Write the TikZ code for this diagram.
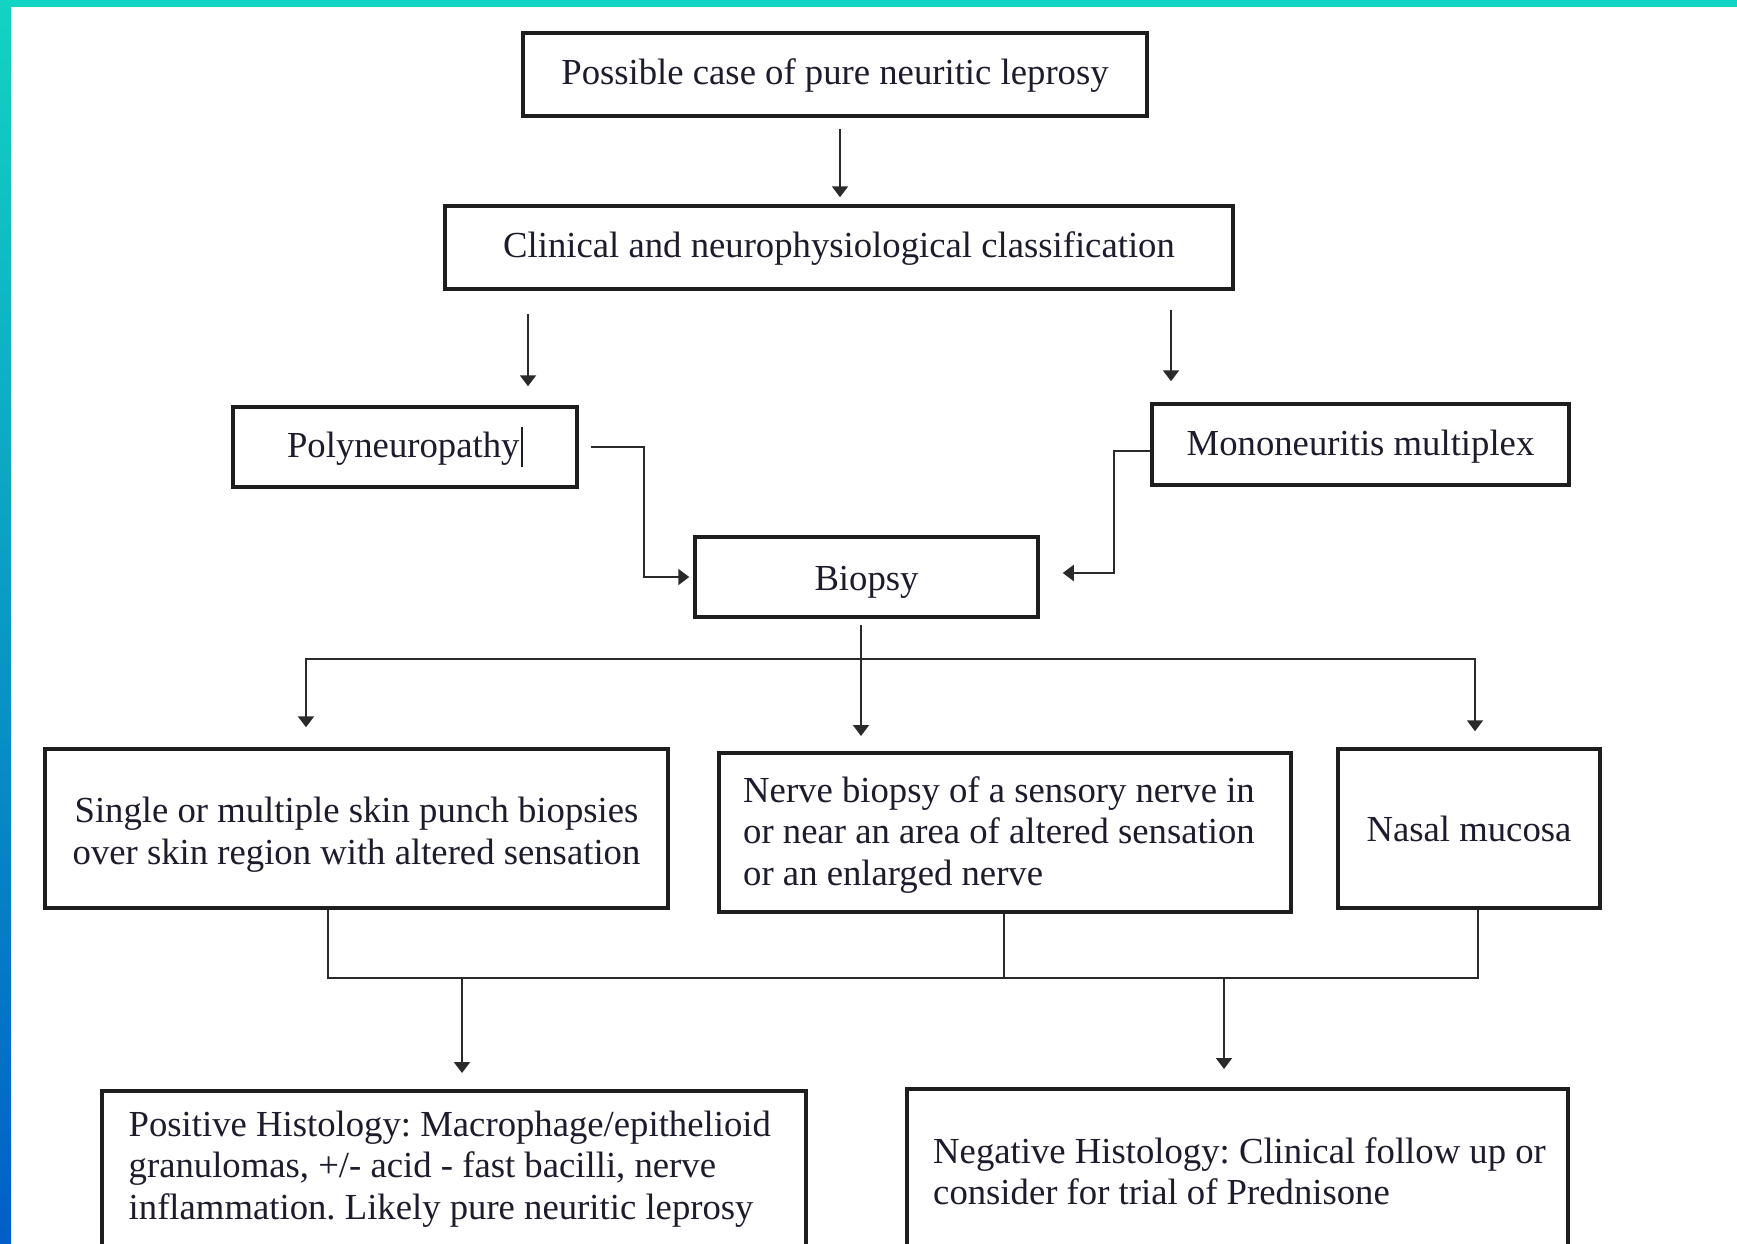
\documentclass[tikz,border=0pt]{standalone}
\usepackage{fontspec}
\setmainfont{Liberation Serif}
\usetikzlibrary{arrows.meta,calc}
\frenchspacing
\definecolor{boxc}{HTML}{1E1E1E}
\definecolor{linec}{HTML}{2A2A2A}
\definecolor{txtc}{HTML}{1C1C2C}
\definecolor{teal1}{HTML}{12D4C2}
\definecolor{cyan1}{HTML}{1BB5E4}
\definecolor{blue1}{HTML}{005FC8}
\newcommand{\lift}[1]{\rule{0pt}{#1}}
\begin{document}
\begin{tikzpicture}[x=1pt,y=-1pt,
  box/.style={draw=boxc, line width=3.5pt, inner sep=0pt, text=txtc, font=\fontsize{36.7}{41.5}\selectfont\frenchspacing},
  txt/.style={text=txtc, inner sep=0pt, font=\fontsize{36.7}{41.5}\selectfont\frenchspacing},
  conn/.style={draw=linec, line width=2pt},
  arr/.style={conn, -{Triangle[length=11pt,width=16pt]}},
]
\useasboundingbox (0,0) rectangle (1737,1243);
\clip (0,0) rectangle (1737,1243);
\fill[white] (0,0) rectangle (1737,1243);

% nodes
\node[box, minimum width=624pt, minimum height=83pt] (n1) at (835,74.5) {\lift{27pt}Possible case of pure neuritic leprosy};
\node[box, minimum width=788pt, minimum height=83pt] (n2) at (839,247.5) {\lift{27pt}Clinical and neurophysiological classification};
\node[box, minimum width=344pt, minimum height=80pt] (poly) at (405,447) {Polyneuropathy\hspace{2pt}\rule[-10pt]{1.5pt}{40pt}};
\node[box, minimum width=417pt, minimum height=81pt] (mono) at (1360.5,444.5) {\lift{29pt}Mononeuritis multiplex};
\node[box, minimum width=343pt, minimum height=80pt] (biopsy) at (866.5,577) {\lift{35pt}Biopsy};
\node[box, minimum width=623pt, minimum height=159pt, align=center] (skin) at (356.5,828.5) {\lift{38pt}Single or multiple skin punch biopsies\\over skin region with altered sensation};
\node[box, anchor=north west, minimum width=572pt, minimum height=159pt] (nerve) at (717,751) {};
\node[txt, anchor=base west] (nerveT) at ($(nerve.north west)+(26,51)$) {\parbox[t]{540pt}{Nerve biopsy of a sensory nerve in\\or near an area of altered sensation\\or an enlarged nerve}};
\node[box, minimum width=262pt, minimum height=159pt] (nasal) at (1469,828.5) {Nasal mucosa};
\node[box, anchor=north west, minimum width=704pt, minimum height=260pt] (pos) at (100,1089) {};
\node[txt, anchor=base west] (posT) at ($(pos.north west)+(28.5,47)$) {\parbox[t]{700pt}{Positive Histology: Macrophage/epithelioid\\granulomas, +/- acid - fast bacilli, nerve\\inflammation. Likely pure neuritic leprosy}};
\node[box, anchor=north west, minimum width=661pt, minimum height=260pt] (neg) at (905,1087) {};
\node[txt, anchor=base west] (negT) at ($(neg.north west)+(28,76)$) {\parbox[t]{700pt}{Negative Histology: Clinical follow up or\\consider for trial of Prednisone}};

% guide coordinates
\coordinate (xa) at (840,0);
\coordinate (xb) at (528,0);
\coordinate (xc) at (1171,0);
\coordinate (xd) at (644,0);
\coordinate (xe) at (1114,0);
\coordinate (xf) at (861,0);
\coordinate (xg) at (306,0);
\coordinate (xh) at (1475,0);
\coordinate (xi) at (328,0);
\coordinate (xj) at (1004,0);
\coordinate (xk) at (1478,0);
\coordinate (xl) at (462,0);
\coordinate (xm) at (1224,0);
\coordinate (bus1) at (0,659);
\coordinate (bus2) at (0,978);
\coordinate (m0) at ([yshift=-6pt]mono.west);
\coordinate (b0) at ([yshift=4pt]biopsy.east);

% connectors
\draw[arr, shorten <=11pt, shorten >=7pt] (n1.south -| xa) -- (n2.north -| xa);
\draw[arr, shorten <=23pt, shorten >=19pt] (n2.south -| xb) -- (poly.north -| xb);
\draw[arr, shorten <=19pt, shorten >=21pt] (n2.south -| xc) -- (mono.north -| xc);
\draw[arr, shorten <=12pt, shorten >=4pt] (poly.east) -- (poly.east -| xd) -- (biopsy.west -| xd) -- (biopsy.west);
\draw[arr, shorten >=23pt] (m0) -- (m0 -| xe) -- (b0 -| xe) -- (b0);
\draw[conn, shorten <=6pt] (biopsy.south -| xf) -- (bus1 -| xf);
\draw[conn, line cap=rect] (bus1 -| xg) -- (bus1 -| xh);
\draw[arr, shorten >=20pt] (bus1 -| xg) -- (skin.north -| xg);
\draw[arr, shorten >=15pt] (bus1 -| xf) -- (nerve.north -| xf);
\draw[arr, shorten >=16pt] (bus1 -| xh) -- (nasal.north -| xh);
\draw[conn] (skin.south -| xi) -- (bus2 -| xi) -- (bus2 -| xk) -- (nasal.south -| xk);
\draw[conn] (nerve.south -| xj) -- (bus2 -| xj);
\draw[arr, shorten >=16pt] (bus2 -| xl) -- (pos.north -| xl);
\draw[arr, shorten >=18pt] (bus2 -| xm) -- (neg.north -| xm);

% frame bars
\fill[teal1] (0,0) rectangle (1737,6.5);
\shade[top color=teal1, middle color=cyan1, bottom color=blue1] (0,0) rectangle (11,1243);
\end{tikzpicture}
\end{document}
